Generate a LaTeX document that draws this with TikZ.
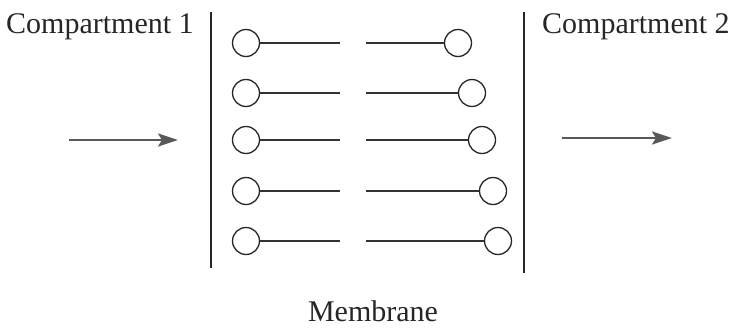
\documentclass[tikz,border=0pt]{standalone}
\usepackage{fontspec}
\setmainfont{Liberation Serif}
\usetikzlibrary{arrows.meta}
\begin{document}
\begin{tikzpicture}[x=1pt,y=-1pt,
  wall/.style={line width=1.8pt,draw=black!85},
  head/.style={circle,draw=black!85,line width=1.3pt,minimum size=27pt,inner sep=0pt},
  tail/.style={line width=1.3pt,draw=black!80},
  flow/.style={line width=2.2pt,draw=black!65,-{Stealth[length=20pt,width=13pt,inset=4pt,fill=black!65]}},
  lbl/.style={font=\fontsize{30}{32}\selectfont,text=black!85,inner sep=0pt}]
\useasboundingbox (0,0) rectangle (731,327);
% membrane walls
\coordinate (wlt) at (211,12); \coordinate (wlb) at (211,268);
\coordinate (wrt) at (524,12); \coordinate (wrb) at (524,273);
\draw[wall] (wlt) -- (wlb);
\draw[wall] (wrt) -- (wrb);
% lipids
\foreach \i/\y/\xr in {1/43/458, 2/93/472, 3/140/482, 4/191/493, 5/241/498}{
  \node[head] (L\i) at (246,\y) {};
  \node[head] (R\i) at (\xr,\y) {};
  \coordinate (Le\i) at (340,\y);
  \coordinate (Rs\i) at (366,\y);
  \draw[tail] (L\i.east) -- (Le\i);
  \draw[tail] (Rs\i) -- (R\i.west);
}
% flow arrows
\coordinate (a1s) at (69,140); \coordinate (a1e) at (178,140);
\coordinate (a2s) at (562,138); \coordinate (a2e) at (672,138);
\draw[flow] (a1s) -- (a1e);
\draw[flow] (a2s) -- (a2e);
% labels
\node[lbl,anchor=base west] (c1) at (6,33) {Compartment 1};
\node[lbl,anchor=base west] (c2) at (542,33) {Compartment 2};
\node[lbl,anchor=base] (mem) at (373,321) {Membrane};
\end{tikzpicture}
\end{document}
